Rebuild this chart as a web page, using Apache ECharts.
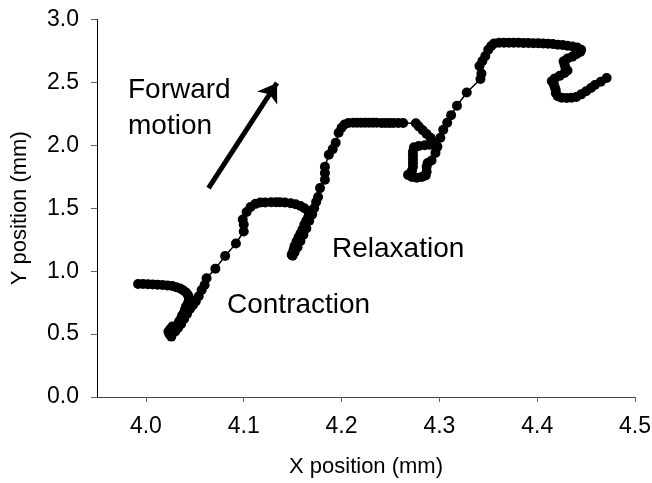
<!DOCTYPE html>
<html>
<head>
<meta charset="utf-8">
<script src="https://cdn.jsdelivr.net/npm/echarts@6/dist/echarts.min.js"></script>
<style>
html,body{margin:0;padding:0;background:#fff;}
#chart{width:652px;height:483px;}
</style>
</head>
<body>
<div id="chart"></div>
<script>
// X tick labels and Y tick labels
const xTicks = [4.0, 4.1, 4.2, 4.3, 4.4, 4.5];
const yTicks = [0.0, 0.5, 1.0, 1.5, 2.0, 2.5, 3.0];

// Trajectory pieces (x mm, y mm), in path order
const startTail = [
  [3.992,0.898],[3.997,0.898],[4.002,0.897],[4.007,0.895],[4.012,0.893],[4.017,0.890],
  [4.022,0.887],[4.027,0.882],[4.031,0.873],[4.035,0.862],[4.038,0.848],[4.041,0.830],
  [4.043,0.810],[4.044,0.788],[4.044,0.765],[4.043,0.745],[4.041,0.718],[4.040,0.695],
  [4.039,0.672],[4.037,0.648],[4.036,0.625],[4.034,0.602],[4.033,0.580],[4.031,0.562],
  [4.030,0.545],[4.029,0.530],[4.027,0.518],[4.026,0.505],[4.025,0.492],[4.026,0.480],
  [4.024,0.500],[4.023,0.520],[4.025,0.540],[4.027,0.560]
];
const rise1 = [
  [4.030,0.520],[4.033,0.550],[4.036,0.580],[4.039,0.620],[4.042,0.660],[4.045,0.700],
  [4.048,0.730],[4.051,0.760],[4.054,0.800],[4.057,0.850],[4.060,0.890],[4.062,0.944],
  [4.071,1.020],[4.081,1.120],[4.092,1.220],[4.100,1.315],[4.100,1.370],[4.099,1.410],
  [4.103,1.470],[4.107,1.510],[4.112,1.535],[4.117,1.545],[4.122,1.546],[4.128,1.547],
  [4.133,1.548],[4.137,1.548],[4.142,1.546],[4.148,1.540],[4.153,1.532],[4.158,1.518],
  [4.162,1.500],[4.166,1.478],[4.168,1.455]
];
const slip1 = [
  [4.166,1.430],[4.164,1.400],[4.162,1.370],[4.160,1.330],[4.158,1.300],[4.156,1.270],
  [4.154,1.235],[4.152,1.200],[4.151,1.170],[4.150,1.145],[4.149,1.130],[4.150,1.122]
];
const rise2 = [
  [4.152,1.150],[4.155,1.190],[4.158,1.240],[4.161,1.290],[4.164,1.340],[4.167,1.400],
  [4.170,1.450],[4.172,1.500],[4.174,1.550],[4.176,1.590],[4.178,1.660],[4.183,1.726],
  [4.183,1.780],[4.183,1.830],[4.187,1.925],[4.191,1.970],[4.194,2.020],[4.197,2.100],
  [4.200,2.140],[4.203,2.165],[4.207,2.177],[4.212,2.180],[4.216,2.180],[4.220,2.180],
  [4.224,2.180],[4.228,2.180],[4.232,2.180],[4.236,2.180],[4.241,2.178],[4.245,2.178],
  [4.249,2.178],[4.253,2.178],[4.258,2.177],[4.263,2.177],[4.276,2.175]
];
const slip2 = [
  [4.279,2.150],[4.283,2.120],[4.287,2.090],[4.291,2.060],[4.293,2.030],[4.290,2.005],
  [4.285,2.000],[4.279,1.995],[4.274,1.985],[4.273,1.950],[4.273,1.920],[4.273,1.890],
  [4.273,1.860],[4.273,1.830],[4.272,1.800],[4.270,1.775],[4.268,1.765],[4.272,1.748],
  [4.277,1.742],[4.282,1.748],[4.286,1.760],[4.287,1.790],[4.287,1.830],[4.288,1.860]
];
const rise3 = [
  [4.292,1.880],[4.296,1.940],[4.298,1.990],[4.301,2.060],[4.304,2.124],[4.308,2.180],
  [4.312,2.240],[4.318,2.315],[4.328,2.420],[4.342,2.527],[4.343,2.570],[4.341,2.630],
  [4.344,2.670],[4.347,2.710],[4.350,2.760],[4.353,2.790],[4.356,2.810],[4.361,2.815],
  [4.366,2.815],[4.371,2.815],[4.376,2.815],[4.381,2.815],[4.386,2.814],[4.391,2.813],
  [4.396,2.812],[4.401,2.811],[4.406,2.810],[4.411,2.808],[4.416,2.805],[4.421,2.800],
  [4.426,2.797],[4.431,2.792],[4.436,2.785],[4.441,2.777],[4.445,2.760]
];
const slip3 = [
  [4.444,2.742],[4.440,2.725],[4.436,2.705],[4.431,2.690],[4.427,2.668],[4.428,2.640],
  [4.429,2.615],[4.431,2.595],[4.428,2.575],[4.423,2.552],[4.418,2.532],[4.415,2.510],
  [4.417,2.485],[4.418,2.462],[4.419,2.440],[4.419,2.415],[4.421,2.390],[4.425,2.378],
  [4.430,2.376],[4.435,2.378],[4.440,2.384],[4.445,2.405],[4.450,2.430],[4.455,2.455],
  [4.459,2.480],[4.465,2.505],[4.471,2.535]
];

// Annotation arrow (data coords)
const arrowPath = [[4.064,1.66],[4.134,2.496]];

const track = [].concat(startTail, rise1, slip1, rise2, slip2, rise3, slip3);

const FONT = 'Liberation Sans, Arial, sans-serif';
const chart = echarts.init(document.getElementById('chart'), null, {renderer:'canvas'});
chart.setOption({
  animation: false,
  backgroundColor: '#fff',
  grid: {left: 97, right: 17, top: 19.5, bottom: 86, containLabel: false, outerBoundsMode: 'none'},
  xAxis: {
    type: 'value', min: 3.95, max: 4.5,
    name: 'X position (mm)', nameLocation: 'middle', nameGap: 59,
    nameTextStyle: {fontSize: 22, color: '#000', fontFamily: FONT},
    axisLine: {show: true, onZero: false, lineStyle: {color: '#444', width: 1}},
    axisTick: {show: true, inside: false, length: 5, customValues: xTicks, lineStyle: {color: '#666'}},
    axisLabel: {customValues: xTicks, formatter: v => Number(v).toFixed(1), fontSize: 23, color: '#000', margin: 18, fontFamily: FONT},
    splitLine: {show: false}
  },
  yAxis: {
    type: 'value', min: 0, max: 3, interval: 0.5,
    name: 'Y position (mm)', nameLocation: 'middle', nameGap: 66,
    nameTextStyle: {fontSize: 22, color: '#000', fontFamily: FONT},
    axisLine: {show: true, onZero: false, lineStyle: {color: '#000', width: 1}},
    axisTick: {show: true, inside: false, length: 6, lineStyle: {color: '#666'}},
    axisLabel: {formatter: v => yTicks.includes(v) ? v.toFixed(1) : '', fontSize: 23, color: '#000', margin: 18, fontFamily: FONT},
    splitLine: {show: false}
  },
  series: [{
    type: 'line',
    data: track,
    symbol: 'circle', symbolSize: 10,
    itemStyle: {color: '#000'},
    lineStyle: {color: '#000', width: 1.5},
    silent: true,
    markLine: {
      silent: true,
      symbol: ['none', 'arrow'],
      symbolSize: 18,
      label: {show: false},
      lineStyle: {color: '#000', width: 5, type: 'solid'},
      data: [[{coord: arrowPath[0]}, {coord: arrowPath[1]}]]
    }
  }],
  graphic: [
    {type: 'text', left: 128, top: 76, style: {text: 'Forward', font: '28px ' + FONT, fill: '#000'}},
    {type: 'text', left: 128, top: 112, style: {text: 'motion', font: '28px ' + FONT, fill: '#000'}},
    {type: 'text', left: 227, top: 291, style: {text: 'Contraction', font: '28px ' + FONT, fill: '#000'}},
    {type: 'text', left: 332, top: 235, style: {text: 'Relaxation', font: '28px ' + FONT, fill: '#000'}}
  ]
});
</script>
</body>
</html>
